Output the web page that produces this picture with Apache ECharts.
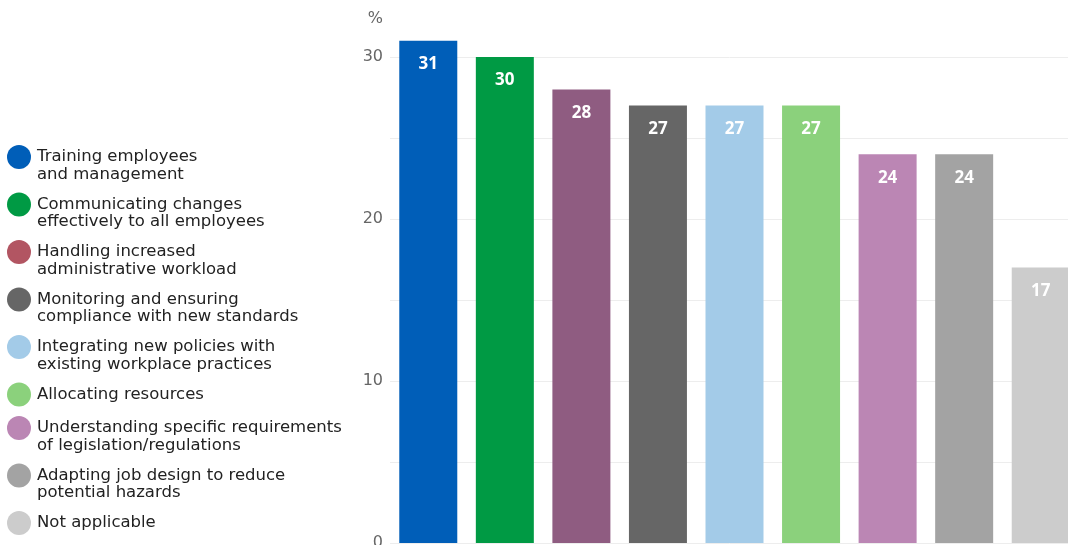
<!DOCTYPE html>
<html><head><meta charset="utf-8">
<script src="https://cdn.jsdelivr.net/npm/echarts@6/dist/echarts.min.js"></script>
<style>html,body{margin:0;padding:0;background:#fff}#c{width:1068px;height:545px}</style>
</head><body><div id="c"></div>
<script>
const categories = [
  "Training employees\nand management",
  "Communicating changes\neffectively to all employees",
  "Handling increased\nadministrative workload",
  "Monitoring and ensuring\ncompliance with new standards",
  "Integrating new policies with\nexisting workplace practices",
  "Allocating resources",
  "Understanding specific requirements\nof legislation/regulations",
  "Adapting job design to reduce\npotential hazards",
  "Not applicable"
];
const values = [31, 30, 28, 27, 27, 27, 24, 24, 17];
const barColors = ["#005EB8","#009A44","#8F5C81","#666666","#A3CBE8","#8BD17C","#BB86B4","#A3A3A3","#CCCCCC"];
const legendColors = ["#005EB8","#009A44","#B25562","#666666","#A3CBE8","#8BD17C","#BB86B4","#A3A3A3","#CCCCCC"];
const yTicks = [0, 10, 20, 30];

const FONT = "DejaVu Sans";
const rich = { t: { fontFamily: FONT, fontSize: 16.5, color: "#222", lineHeight: 17.5, padding: [0,0,0,6] }, s: { width: 24, height: 17.5 } };
legendColors.forEach((c, i) => { rich["c" + i] = { width: 24, height: 24, lineHeight: 17.5, borderRadius: 12, backgroundColor: c }; });

const series = categories.map((name, i) => ({
  name: name,
  type: "bar",
  stack: "all",
  barWidth: 58,
  clip: false,
  itemStyle: { color: barColors[i] },
  label: { show: true, position: "insideTop", distance: 15, color: "#fff", fontWeight: "bold", fontSize: 17, fontFamily: "Open Sans" },
  data: values.map((v, j) => j === i ? v : "-")
}));

const chart = echarts.init(document.getElementById("c"));
chart.setOption({
  animation: false,
  grid: { left: 390, right: -11, top: 57, bottom: 2, outerBoundsMode: "none", containLabel: false },
  legend: {
    orient: "vertical", left: -3, top: 140, height: 405, icon: "none", itemWidth: 0, itemHeight: 0, itemGap: 9.5,
    selectedMode: false,
    data: categories,
    formatter: function (name) {
      const i = categories.indexOf(name);
      const lines = name.split("\n");
      return lines.map((l, k) => (k === 0 ? "{c" + i + "|}" : "{s|}") + "{t|" + l + "}").join("\n");
    },
    textStyle: { rich: rich }
  },
  xAxis: { type: "category", data: categories, show: false },
  yAxis: {
    type: "value", min: 0, max: 30, interval: 5,
    name: "%", nameLocation: "end", nameGap: 30,
    nameTextStyle: { color: "#666", fontSize: 16, fontFamily: FONT, align: "right", padding: [0, 7, 0, 0] },
    axisLine: { show: false }, axisTick: { show: false },
    splitLine: { lineStyle: { color: "#ededed" } },
    axisLabel: { color: "#666", fontSize: 16, fontFamily: FONT, margin: 7,
      formatter: v => yTicks.indexOf(v) >= 0 ? String(v) : "" }
  },
  series: series
});
</script></body></html>
